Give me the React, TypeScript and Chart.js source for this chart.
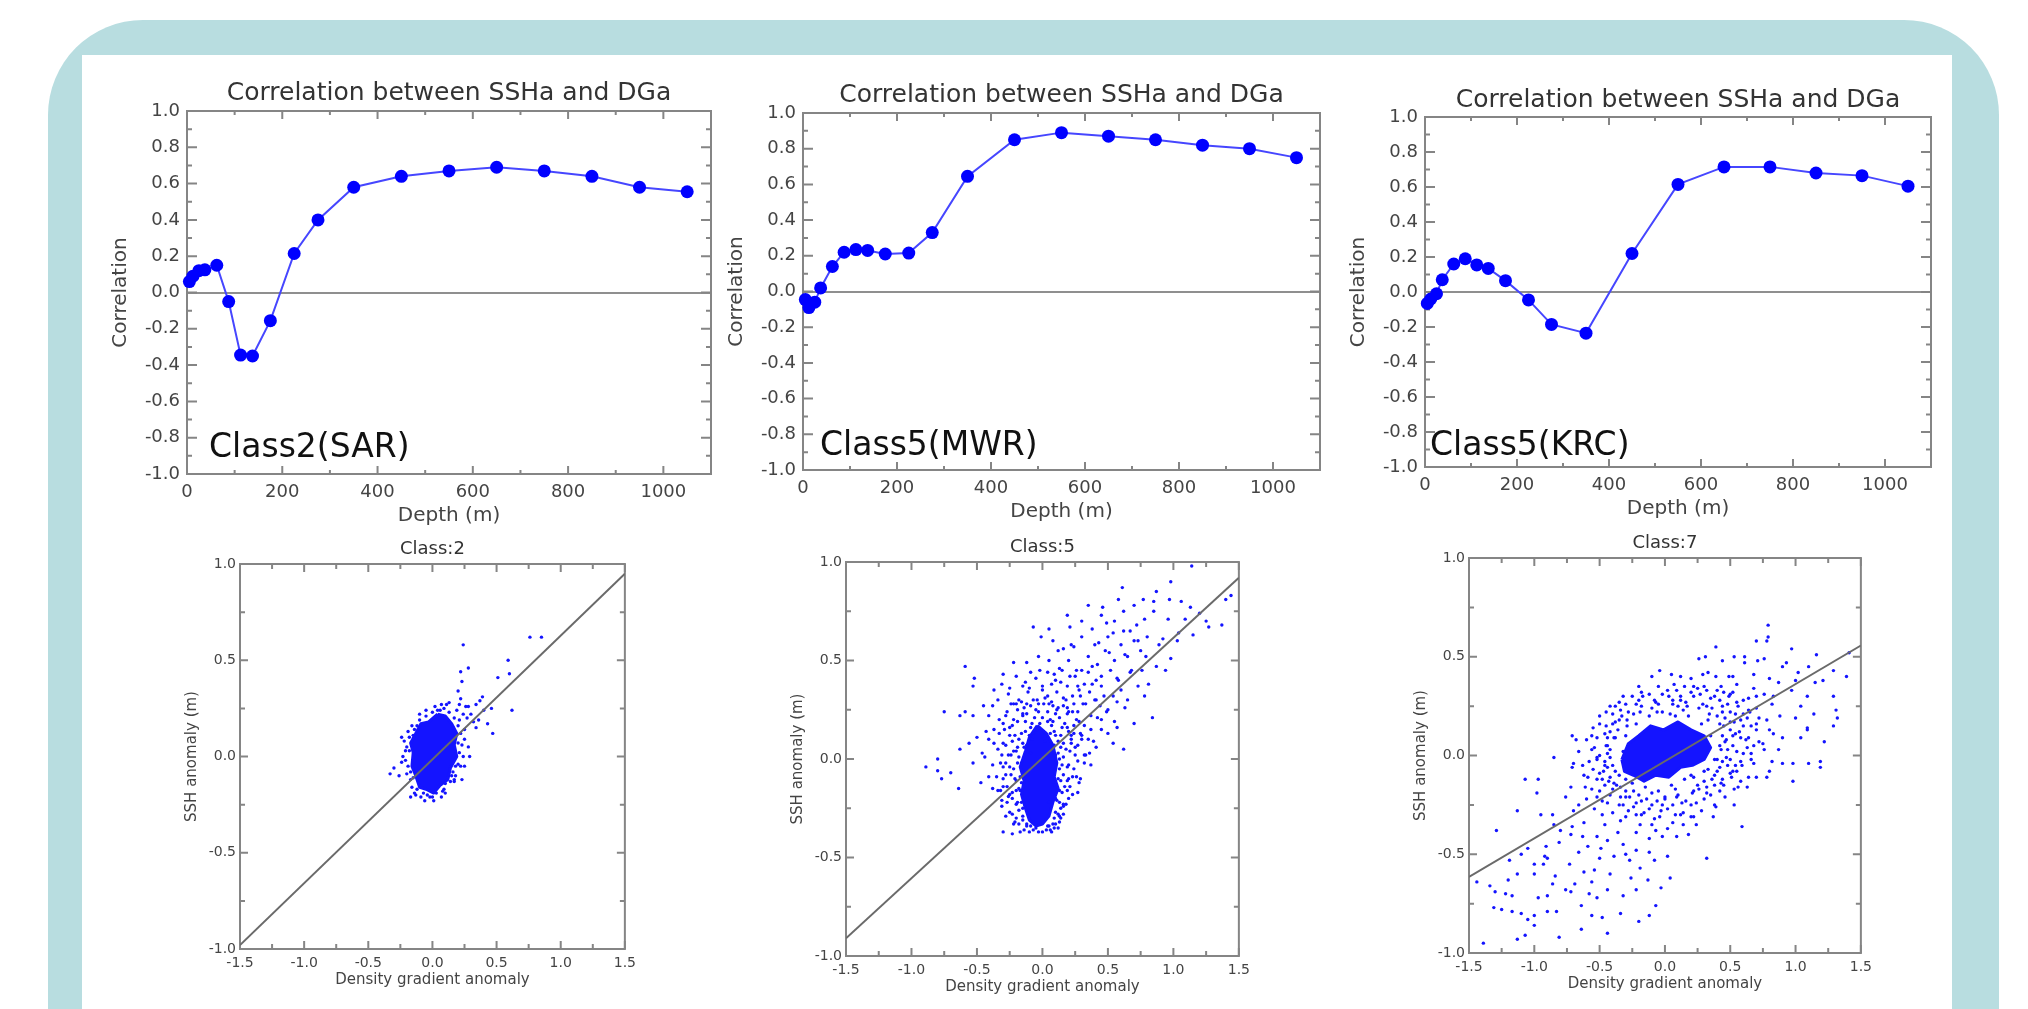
import React, { useEffect, useRef } from "react";
import { Chart, registerables } from "chart.js";

Chart.register(...registerables);

const FONT = "'DejaVu Sans', sans-serif";

// ---------------- Correlation profiles (top row) ----------------
const depthsM = [5, 12.5, 25, 37.5, 62.5, 87.5, 112.5, 137.5, 175, 225, 275, 350, 450, 550, 650, 750, 850, 950, 1050];
const corrClass2SAR = [0.06, 0.09, 0.12, 0.125, 0.15, -0.05, -0.345, -0.35, -0.155, 0.215, 0.4, 0.58, 0.64, 0.67, 0.69, 0.67, 0.64, 0.58, 0.555];
const corrClass5MWR = [-0.045, -0.09, -0.06, 0.02, 0.14, 0.22, 0.235, 0.23, 0.21, 0.215, 0.33, 0.645, 0.85, 0.89, 0.87, 0.85, 0.82, 0.8, 0.75];
const corrClass5KRC = [-0.065, -0.04, -0.01, 0.07, 0.16, 0.19, 0.155, 0.135, 0.065, -0.045, -0.185, -0.235, 0.22, 0.615, 0.715, 0.715, 0.68, 0.665, 0.605];

const depthTicks = [0, 200, 400, 600, 800, 1000];
const depthMinorTicks = [100, 300, 500, 700, 900];
const corrTicks = [-1.0, -0.8, -0.6, -0.4, -0.2, 0.0, 0.2, 0.4, 0.6, 0.8, 1.0];
const corrMinorTicks = [-0.9, -0.7, -0.5, -0.3, -0.1, 0.1, 0.3, 0.5, 0.7, 0.9];

// ---------------- Scatter plots (bottom row) ----------------
const gradTicks = [-1.5, -1.0, -0.5, 0.0, 0.5, 1.0, 1.5];
const gradMinorTicks = [-1.25, -0.75, -0.25, 0.25, 0.75, 1.25];
const sshTicks = [-1.0, -0.5, 0.0, 0.5, 1.0];
const sshMinorTicks = [-0.75, -0.25, 0.25, 0.75];

const fitX = [-1.5, 1.5];
const fitClass2 = [-0.98, 0.95];
const fitClass5 = [-0.91, 0.92];
const fitClass7 = [-0.615, 0.557];

// dense cores (outline of the saturated blobs)
const coreClass2 = [[0.04,0.22],[0.1,0.21],[0.15,0.17],[0.19,0.12],[0.17,0.06],[0.19,0.0],[0.14,-0.06],[0.12,-0.12],[0.06,-0.15],[0.01,-0.19],[-0.05,-0.17],[-0.1,-0.16],[-0.13,-0.1],[-0.16,-0.05],[-0.15,0.02],[-0.17,0.07],[-0.13,0.12],[-0.09,0.17],[-0.03,0.18],[0.04,0.22]];
const coreClass5 = [[-0.04,0.17],[0.03,0.13],[0.08,0.07],[0.11,-0.02],[0.09,-0.09],[0.12,-0.15],[0.08,-0.22],[0.05,-0.29],[0.0,-0.33],[-0.05,-0.34],[-0.1,-0.31],[-0.13,-0.25],[-0.16,-0.18],[-0.14,-0.11],[-0.17,-0.04],[-0.13,0.04],[-0.1,0.11],[-0.04,0.17]];
const coreClass7 = [[-0.33,-0.02],[-0.28,0.06],[-0.2,0.1],[-0.11,0.15],[-0.01,0.13],[0.1,0.17],[0.2,0.13],[0.3,0.1],[0.35,0.04],[0.3,-0.02],[0.21,-0.05],[0.12,-0.06],[0.03,-0.11],[-0.07,-0.1],[-0.16,-0.13],[-0.24,-0.1],[-0.31,-0.08],[-0.33,-0.02]];

const pointsClass2 = [
[-0.2,0.05],[-0.19,-0.05],[-0.18,0.1],[-0.17,-0.12],[-0.21,-0.02],[-0.14,0.14],[-0.1,0.19],[-0.05,0.21],[0.0,0.23],[0.04,0.24],[0.09,0.25],[0.13,0.23],[0.17,0.2],[0.2,0.16],[0.22,0.12],[0.23,0.06],[0.21,0.02],[0.2,-0.04],[0.16,-0.08],[0.14,-0.13],[0.09,-0.17],[0.03,-0.19],[-0.02,-0.21],[-0.07,-0.19],[-0.12,-0.17],[-0.15,-0.11],[0.25,0.14],[0.27,0.2],[0.24,0.22],[0.19,0.24],[0.11,0.27],[-0.22,0.08],[-0.13,-0.2],[0.07,-0.21],[0.18,-0.1],[0.22,-0.05],[0.13,0.28],[0.07,0.27],[0.02,0.26],[-0.05,0.24],[-0.1,0.22],[-0.16,0.16],[-0.19,0.13],[-0.23,0.0],[-0.2,-0.09],[-0.16,-0.16],[-0.09,-0.21],[0.01,-0.23],[0.1,-0.19],[0.17,-0.13],[0.24,0.0],[0.25,0.09],
[-0.18,0.03],[-0.17,-0.08],[-0.15,0.11],[-0.12,0.16],[0.16,0.15],[0.2,0.07],[0.18,-0.05],[0.15,-0.1],[0.08,-0.18],[-0.04,-0.2],[0.21,0.19],[0.06,0.24],
[0.24,0.58],[0.76,0.62],[0.85,0.62],[0.59,0.5],[0.28,0.46],[0.22,0.44],[0.51,0.41],[0.6,0.43],[0.23,0.39],[0.2,0.34],[0.22,0.3],[0.39,0.31],[0.46,0.25],[0.62,0.24],[0.43,0.17],[0.34,0.27],[0.28,0.26],[-0.33,-0.09],[-0.3,-0.06],[-0.24,0.1],[-0.21,0.03],[0.47,0.12],[0.34,0.15],[0.29,0.0],[0.17,-0.12],[0.1,-0.14],[-0.14,-0.19],[-0.06,-0.23],[0.0,-0.21],[0.37,0.29],[0.26,0.26],[0.21,0.27],[0.3,0.22],[0.32,0.18],[0.36,0.19],[0.4,0.24],[-0.26,-0.1],[-0.24,-0.03],[0.25,-0.05],[-0.17,-0.21],[0.28,0.05],[0.23,-0.12]
];

const pointsClass5 = [
[1.14,0.98],[0.98,0.9],[0.61,0.87],[0.87,0.85],[1.44,0.83],[1.4,0.81],[0.58,0.81],[0.77,0.81],[0.85,0.8],[0.97,0.81],[1.06,0.8],[0.35,0.78],[0.46,0.77],[0.7,0.78],[1.13,0.77],[0.19,0.73],[0.45,0.73],[0.62,0.75],[0.85,0.75],[1.2,0.74],[1.25,0.7],[1.37,0.68],[1.27,0.67],[1.09,0.71],[0.96,0.71],[0.78,0.71],[0.49,0.69],[0.3,0.7],[0.21,0.67],[0.38,0.66],[-0.07,0.67],[0.05,0.66],[-0.01,0.62],[0.08,0.6],[0.54,0.64],[0.67,0.65],[1.04,0.64],[1.15,0.63],[0.73,0.6],[0.92,0.61],[0.89,0.58],[1.03,0.6],[0.43,0.59],[0.24,0.57],[0.16,0.56],[-0.03,0.52],[-0.12,0.49],[-0.22,0.49],[-0.59,0.47],[0.51,0.54],[0.63,0.53],[0.79,0.52],[0.98,0.51],[0.87,0.47],[0.94,0.45],[0.76,0.45],[0.67,0.44],[0.57,0.41],[0.38,0.47],[0.26,0.45],[0.13,0.46],[0.04,0.44],[-0.09,0.44],[-0.3,0.43],[-0.52,0.41],[-0.53,0.37],[-0.37,0.35],[-0.25,0.36],[-0.15,0.37],[0.07,0.38],[0.19,0.37],[0.32,0.38],[0.45,0.37],[0.6,0.35],[0.73,0.37],[0.81,0.38],[0.78,0.32],[0.65,0.3],[0.54,0.32],[0.41,0.3],[0.29,0.32],[0.16,0.31],[0.04,0.32],[-0.07,0.3],[-0.22,0.28],[-0.34,0.3],[-0.45,0.27],[-0.75,0.24],[-0.59,0.24],[-0.63,0.22],[-0.53,0.22],[-0.41,0.22],[-0.28,0.22],[-0.15,0.23],[-0.03,0.24],[0.1,0.23],[0.23,0.24],[0.37,0.22],[0.49,0.24],[0.63,0.26],[0.84,0.21],[0.7,0.18],[0.57,0.16],[0.45,0.15],[0.32,0.17],[0.19,0.16],[0.07,0.17],[-0.09,0.16],[-0.25,0.16],[-0.37,0.15],[-0.5,0.11],[-0.41,0.1],[-0.56,0.08],[-0.63,0.05],[-0.8,0.0],[-0.89,-0.04],[-0.8,-0.06],[-0.77,-0.1],[-0.7,-0.07],[-0.64,-0.15],[-0.53,-0.02],[-0.44,0.01],[-0.34,0.05],[-0.28,-0.02],[-0.41,-0.09],[-0.47,-0.12],[-0.34,-0.16],[0.62,0.05],[0.54,0.08],[0.41,0.06],[0.32,-0.02],[0.26,-0.09],[0.3,0.12],[0.22,0.1],[0.36,0.03],[0.27,-0.17],
[-0.3,-0.37],[-0.23,-0.38],[-0.17,-0.37],[0.07,-0.37],[-0.03,-0.37],[0.05,-0.34],[-0.09,-0.34],[-0.22,-0.33],[-0.28,-0.29],[-0.31,-0.24],[-0.26,-0.19],[0.13,-0.29],[0.16,-0.23],[0.23,-0.18],[0.19,-0.11],
[-0.22,0.2],[-0.15,0.22],[-0.08,0.18],[0.0,0.21],[0.08,0.19],[0.15,0.16],[0.22,0.12],[-0.25,0.12],[-0.18,0.1],[-0.1,0.12],[0.12,0.09],[0.18,0.05],[0.25,0.06],[-0.26,0.02],[-0.2,0.04],[-0.16,-0.02],[0.13,0.0],[0.2,-0.03],[0.27,-0.01],[-0.28,-0.08],[-0.21,-0.1],[-0.16,-0.12],[0.12,-0.1],[0.17,-0.14],[0.23,-0.09],[-0.25,-0.18],[-0.19,-0.22],[-0.15,-0.25],[0.1,-0.2],[0.14,-0.25],[0.2,-0.2],[-0.2,-0.3],[-0.12,-0.33],[-0.05,-0.35],[0.04,-0.34],[0.09,-0.3],[0.13,-0.32],[-0.1,-0.37],[0.0,-0.37],[0.06,-0.36],[-0.3,0.08],[-0.32,-0.02],[-0.3,-0.14],[0.3,0.1],[0.32,0.02],[0.28,-0.12],[-0.12,0.28],[-0.04,0.3],[0.05,0.28],[0.12,0.26],[0.2,0.24],[-0.2,0.28],[0.1,0.12],[-0.14,0.06],[-0.17,-0.16],[0.09,-0.13],[0.05,-0.22],[-0.08,0.1],
[0.3,0.45],[0.35,0.52],[0.42,0.48],[0.48,0.55],[0.55,0.5],[0.6,0.58],[0.5,0.62],[0.4,0.58],[0.45,0.42],[0.38,0.38],[0.28,0.35],[0.33,0.28],[0.25,0.42],[0.52,0.45],[0.58,0.4],[0.65,0.52],[0.7,0.6],[0.75,0.55],[0.62,0.65],[0.55,0.7],[0.68,0.45],[0.72,0.68],[0.8,0.62],[0.2,0.5],[0.15,0.45],[0.1,0.4],[0.05,0.5],[-0.02,0.45],[0.22,0.58],[0.3,0.62],[0.12,0.55],[-0.1,0.36],[-0.18,0.3],[0.0,0.35],[0.18,0.3],[0.26,0.2],[0.4,0.3],[0.45,0.2],[0.35,0.1],[0.5,0.25],
[-0.2,0.42],[-0.05,0.41],[0.09,0.43],[0.21,0.42],[0.35,0.44],[-0.31,0.38],[-0.13,0.39],[0.0,0.37],[0.14,0.39],[0.27,0.37],[0.41,0.4],[-0.26,0.33],[-0.11,0.34],[0.02,0.31],[0.11,0.34],[0.23,0.32],[0.36,0.34],[0.47,0.32],[-0.38,0.27],[-0.14,0.26],[-0.03,0.28],[0.08,0.27],[0.19,0.26],[0.31,0.28],[0.44,0.27],[0.57,0.29],[-0.33,0.2],[-0.19,0.19],[-0.06,0.21],[0.04,0.19],[0.13,0.21],[0.28,0.19],[0.42,0.21],[0.55,0.19],[-0.43,0.14],[-0.29,0.15],[-0.16,0.13],[-0.04,0.15],[0.09,0.14],[0.24,0.13],[0.37,0.15],[0.5,0.13],[-0.37,0.08],[-0.23,0.09],[-0.12,0.07],[0.02,0.09],[0.16,0.08],[0.27,0.07],[0.39,0.09],[-0.46,0.03],[-0.31,0.02],[-0.22,0.04],[-0.09,0.03],[0.1,0.02],[0.21,0.04],[0.33,0.02],[-0.38,-0.03],[-0.25,-0.04],[-0.19,-0.02],[0.15,-0.03],[0.24,-0.05],[0.37,-0.03],[-0.35,-0.09],[-0.24,-0.08],[-0.14,-0.1],[0.16,-0.08],[0.29,-0.1],[-0.38,-0.15],[-0.27,-0.14],[-0.2,-0.16],[0.13,-0.16],[0.21,-0.14],[-0.31,-0.21],[-0.23,-0.2],[-0.16,-0.22],[0.11,-0.21],[0.18,-0.23],[-0.25,-0.27],[-0.18,-0.26],[0.1,-0.27],[0.16,-0.28],[-0.21,-0.32],[-0.15,-0.31],[0.08,-0.33],[0.12,-0.35],
[-0.24,0.28],[-0.16,0.29],[-0.09,0.27],[0.01,0.28],[0.07,0.29],[0.16,0.27],[0.24,0.28],[-0.27,0.24],[-0.19,0.25],[-0.12,0.23],[-0.05,0.25],[0.04,0.24],[0.11,0.25],[0.19,0.23],[0.27,0.24],[-0.3,0.18],[-0.23,0.17],[-0.13,0.19],[-0.02,0.18],[0.06,0.2],[0.17,0.18],[0.24,0.17],[-0.33,0.13],[-0.21,0.12],[-0.13,0.14],[-0.07,0.13],[0.06,0.13],[0.14,0.12],[0.2,0.14],[0.29,0.13],[-0.28,0.07],[-0.19,0.06],[-0.15,0.08],[0.09,0.07],[0.14,0.06],[0.22,0.08],[-0.24,0.02],[-0.18,0.01],[0.12,0.03],[0.16,0.01],[0.25,0.02],[-0.3,-0.04],[-0.22,-0.05],[0.13,-0.05],[0.19,-0.04],[-0.3,-0.1],[-0.2,-0.11],[-0.17,-0.09],[0.14,-0.11],[0.2,-0.1],[-0.32,-0.16],[-0.23,-0.17],[-0.18,-0.15],[0.15,-0.17],[0.19,-0.16],[-0.27,-0.22],[-0.2,-0.23],[0.13,-0.22],[0.16,-0.24],[-0.23,-0.28],[-0.15,-0.29],[0.12,-0.28],[0.14,-0.3],[-0.18,-0.33],[-0.12,-0.34],[0.1,-0.33],[-0.14,-0.36],[-0.07,-0.36],[0.03,-0.36],[0.09,-0.35]
];

const pointsClass7 = [
[0.79,0.66],[0.79,0.6],[0.7,0.58],[0.78,0.58],[0.39,0.55],[0.97,0.54],[1.16,0.51],[1.41,0.52],[0.26,0.49],[0.31,0.5],[0.44,0.48],[0.53,0.5],[0.61,0.5],[0.61,0.47],[0.71,0.48],[0.76,0.49],[0.9,0.45],[0.93,0.47],[1.1,0.45],[1.02,0.42],[1.29,0.43],[1.39,0.4],[-0.04,0.43],[0.12,0.4],[0.29,0.41],[0.39,0.4],[0.49,0.4],[0.68,0.41],[0.8,0.39],[0.87,0.37],[1.0,0.38],[1.15,0.37],[1.21,0.38],[1.29,0.3],[0.97,0.33],[0.83,0.3],[0.7,0.3],[1.09,0.3],[1.04,0.25],[1.31,0.23],[1.32,0.19],[1.29,0.15],[1.14,0.21],[1.09,0.14],[1.0,0.19],[1.09,0.13],[1.04,0.09],[1.22,0.07],[1.19,-0.03],[1.19,-0.06],[1.1,-0.04],[0.98,-0.04],[0.98,-0.13],[0.9,-0.04],[0.8,-0.08],[0.78,-0.11],[0.7,-0.11],[0.63,-0.16],[0.53,-0.17],[0.53,-0.25],[0.39,-0.26],[0.59,-0.36],[0.37,-0.31],[0.22,-0.31],[0.14,-0.35],[0.09,-0.41],[0.02,-0.37],[-0.07,-0.38],[-0.19,-0.35],[-0.22,-0.39],[-0.12,-0.42],[0.02,-0.51],[0.32,-0.52],[-0.08,-0.53],[0.04,-0.62],[-0.03,-0.67],[-0.13,-0.63],[-0.07,-0.76],[-0.12,-0.81],[-0.2,-0.84],[-0.22,-0.68],[-0.32,-0.71],[-0.44,-0.68],[-0.44,-0.9],[-0.48,-0.82],[-0.52,-0.72],[-0.56,-0.64],[-0.54,-0.58],[-0.64,-0.76],[-0.64,-0.88],[-0.69,-0.65],[-0.73,-0.55],[-0.76,-0.68],[-0.81,-0.92],[-0.83,-0.79],[-0.86,-0.65],[-0.9,-0.52],[-0.93,-0.55],[-0.97,-0.72],[-1.0,-0.81],[-1.0,-0.86],[-1.07,-0.91],[-1.05,-0.83],[-1.0,-0.55],[-1.05,-0.47],[-1.13,-0.93],[-1.17,-0.79],[-1.17,-0.71],[-1.13,-0.6],[-1.19,-0.53],[-1.2,-0.63],[-1.25,-0.78],[-1.29,-0.38],[-1.3,-0.69],[-1.31,-0.77],[-1.39,-0.95],[-1.44,-0.64],[-1.34,-0.66],[-1.07,-0.12],[-0.97,-0.12],[-0.98,-0.19],[-1.13,-0.28],[-0.95,-0.3],[-0.86,-0.3],[-0.85,-0.35],[-0.8,-0.38],[-0.91,-0.46],[-0.81,-0.44],[-0.71,-0.36],[-0.63,-0.41],[-0.59,-0.46],[-0.49,-0.47],[-0.44,-0.43],[-0.39,-0.51],[-0.32,-0.45],[-0.27,-0.53],[-0.22,-0.48],[-0.19,-0.57],[-0.85,-0.01],[-0.71,0.1],[-0.68,0.08],[-0.71,-0.06],[-0.63,-0.05],[-0.52,-0.01],[-0.59,-0.11],[-0.61,-0.16],[-0.52,-0.21],[-0.66,-0.25],[-0.76,-0.21],[-0.42,0.03],[-0.47,-0.08],[-0.39,-0.14],[-0.34,-0.21],[-0.24,-0.26],[-0.12,-0.27],[-0.02,-0.25],[0.09,-0.21],[0.21,-0.19],[0.32,-0.16],[0.43,-0.14],[0.51,-0.11],[0.59,-0.05],[0.66,0.01],[0.75,0.06],[0.83,0.11],[0.87,0.03],[0.78,0.18],[0.7,0.13],[0.63,0.19],[0.56,0.25],[0.49,0.3],[0.43,0.35],[0.32,0.33],[0.22,0.35],[0.12,0.3],[0.02,0.33],[-0.07,0.27],[-0.19,0.22],[-0.22,0.26],[-0.29,0.18],[-0.36,0.13],[-0.39,0.09],
[-0.45,0.05],[-0.4,-0.05],[-0.42,0.12],[-0.35,0.18],[-0.35,-0.1],[-0.32,0.02],[-0.3,0.1],[-0.3,-0.18],[-0.28,0.22],[-0.25,-0.14],[-0.22,0.16],[-0.2,-0.2],[-0.18,0.25],[-0.15,-0.16],[-0.12,0.2],[-0.1,-0.25],[-0.08,0.28],[-0.05,-0.18],[-0.02,0.22],[0.0,-0.22],[0.03,0.3],[0.05,-0.15],[0.08,0.2],[0.1,-0.2],[0.12,0.28],[0.15,-0.12],[0.18,0.2],[0.2,-0.1],[0.22,0.3],[0.25,-0.15],[0.28,0.16],[0.3,-0.08],[0.32,0.25],[0.35,0.1],[0.38,-0.02],[0.4,0.2],[0.42,0.05],[0.45,0.15],[0.48,-0.05],[0.5,0.22],[0.52,0.1],[0.55,0.02],[0.58,0.18],[0.6,0.28],[0.62,0.08],[0.38,0.3],[0.45,0.32],[0.3,0.35],[0.15,0.35],[-0.05,0.35],[-0.25,0.3],[-0.38,0.25],[-0.48,-0.12],[-0.42,-0.2],[-0.35,-0.25],[-0.22,-0.3],[-0.08,-0.32],[0.08,-0.3],[0.2,-0.25],[0.35,-0.2],[0.45,-0.15],[0.55,-0.08],
[-0.5,0.0],[-0.46,-0.03],[-0.44,0.09],[-0.4,0.16],[-0.37,-0.15],[-0.33,0.2],[-0.27,-0.21],[-0.17,0.3],[-0.14,-0.22],[-0.03,-0.28],[0.06,0.26],[0.13,-0.24],[0.26,0.24],[0.36,-0.12],[0.44,0.25],[0.47,0.08],[0.53,0.17],[0.57,0.12],[0.65,0.22],[0.68,0.05],[0.5,-0.02],[0.4,-0.08],[0.33,0.18],[0.17,0.25],
[-0.1,0.4],[0.05,0.41],[0.2,0.39],[0.33,0.42],[0.52,0.4],[-0.2,0.35],[0.07,0.36],[0.25,0.34],[0.55,0.36],[0.68,0.34],[-0.32,0.3],[-0.12,0.31],[0.35,0.29],[0.5,0.31],[0.64,0.29],[0.76,0.31],[-0.42,0.25],[-0.3,0.26],[-0.1,0.24],[0.1,0.25],[0.36,0.24],[0.48,0.26],[0.7,0.24],[0.82,0.26],[-0.5,0.2],[-0.4,0.21],[0.46,0.19],[0.6,0.21],[0.72,0.19],[0.88,0.2],[-0.55,0.14],[-0.45,0.15],[0.5,0.13],[0.66,0.15],[0.8,0.13],[-0.6,0.08],[-0.52,0.09],[0.46,0.07],[0.58,0.09],[0.72,0.07],[0.9,0.09],[-0.66,0.02],[-0.56,0.03],[-0.44,0.01],[0.48,0.03],[0.6,0.01],[0.76,0.03],[-0.7,-0.04],[-0.58,-0.03],[-0.46,-0.05],[0.44,-0.03],[0.54,-0.05],[0.68,-0.04],[0.82,-0.03],[-0.62,-0.1],[-0.5,-0.09],[-0.42,-0.11],[0.38,-0.1],[0.5,-0.09],[0.64,-0.11],[-0.72,-0.16],[-0.56,-0.17],[-0.46,-0.15],[-0.34,-0.16],[0.26,-0.17],[0.38,-0.15],[0.56,-0.16],[-0.6,-0.22],[-0.48,-0.23],[-0.3,-0.21],[-0.18,-0.23],[0.0,-0.21],[0.16,-0.23],[0.3,-0.22],[0.46,-0.21],[-0.7,-0.28],[-0.54,-0.27],[-0.4,-0.29],[-0.28,-0.28],[-0.16,-0.29],[0.02,-0.27],[0.14,-0.29],[0.28,-0.28],[-0.62,-0.34],[-0.46,-0.35],[-0.34,-0.33],[-0.1,-0.35],[0.06,-0.34],[0.24,-0.35],[-0.72,-0.4],[-0.52,-0.41],[-0.36,-0.39],[-0.02,-0.41],[0.18,-0.4],
[-1.1,-0.5],[-0.92,-0.51],[-0.66,-0.49],[-0.5,-0.52],[-0.3,-0.5],[-0.12,-0.49],[-1.0,-0.6],[-0.84,-0.61],[-0.62,-0.59],[-0.42,-0.6],[-0.26,-0.62],[-1.22,-0.7],[-0.9,-0.71],[-0.72,-0.69],[-0.58,-0.7],[-1.1,-0.8],[-0.9,-0.79],[-0.56,-0.81],[-0.34,-0.8],
[-0.18,0.32],[-0.02,0.31],[0.09,0.33],[0.2,0.32],[0.27,0.31],[0.4,0.33],[0.52,0.32],[-0.35,0.27],[-0.2,0.28],[-0.05,0.26],[0.06,0.28],[0.16,0.27],[0.29,0.26],[0.42,0.28],[0.55,0.27],[-0.45,0.22],[-0.34,0.23],[-0.24,0.21],[-0.06,0.22],[0.04,0.21],[0.14,0.23],[0.34,0.21],[0.44,0.22],[0.54,0.21],[0.64,0.23],[-0.5,0.16],[-0.38,0.17],[-0.29,0.15],[0.42,0.16],[0.5,0.17],[0.6,0.15],[0.7,0.16],[-0.56,0.1],[-0.46,0.11],[-0.38,0.09],[0.44,0.1],[0.54,0.11],[0.64,0.09],[-0.54,0.04],[-0.44,0.05],[0.43,0.03],[0.52,0.05],[0.63,0.04],[-0.52,-0.02],[-0.42,-0.01],[0.4,-0.02],[0.47,-0.01],[0.58,-0.03],[0.66,-0.02],[-0.55,-0.07],[-0.44,-0.06],[-0.38,-0.08],[0.33,-0.07],[0.42,-0.06],[0.52,-0.08],[-0.52,-0.12],[-0.43,-0.13],[-0.3,-0.12],[0.22,-0.11],[0.3,-0.13],[0.44,-0.12],[0.58,-0.13],[-0.5,-0.18],[-0.4,-0.17],[-0.24,-0.18],[-0.1,-0.19],[0.08,-0.17],[0.22,-0.18],[0.32,-0.19],[0.42,-0.18],[-0.44,-0.24],[-0.32,-0.25],[-0.22,-0.24],[-0.06,-0.23],[0.06,-0.25],[0.24,-0.24],[0.38,-0.25],[-0.48,-0.3],[-0.3,-0.31],[-0.18,-0.3],[-0.04,-0.31],[0.12,-0.3],[0.2,-0.31]
];

// ---------------- helpers ----------------
const toXY = (pairs: number[][]) => pairs.map(([x, y]) => ({ x, y }));

const idlFrame = {
  id: "idlFrame",
  beforeDatasetsDraw(chart: any, _args: any, o: any) {
    const { ctx, chartArea: a, scales } = chart;
    const sx = scales.x;
    const sy = scales.y;
    ctx.save();
    ctx.strokeStyle = o.color;
    ctx.lineWidth = o.lineWidth;
    ctx.strokeRect(a.left, a.top, a.right - a.left, a.bottom - a.top);
    ctx.beginPath();
    const xt = (vals: number[], len: number) =>
      vals.forEach((v) => {
        const p = sx.getPixelForValue(v);
        ctx.moveTo(p, a.bottom);
        ctx.lineTo(p, a.bottom - len);
        ctx.moveTo(p, a.top);
        ctx.lineTo(p, a.top + len);
      });
    const yt = (vals: number[], len: number) =>
      vals.forEach((v) => {
        const p = sy.getPixelForValue(v);
        ctx.moveTo(a.left, p);
        ctx.lineTo(a.left + len, p);
        ctx.moveTo(a.right, p);
        ctx.lineTo(a.right - len, p);
      });
    xt(o.xMajor, o.xMajorLen);
    xt(o.xMinor, o.xMinorLen);
    yt(o.yMajor, o.yMajorLen);
    yt(o.yMinor, o.yMinorLen);
    ctx.stroke();
    ctx.restore();
  },
  afterDatasetsDraw(chart: any, _args: any, o: any) {
    if (!o.label) return;
    const { ctx, chartArea: a } = chart;
    ctx.save();
    ctx.font = `${o.label.size}px ${FONT}`;
    ctx.fillStyle = "#111";
    ctx.textBaseline = "alphabetic";
    ctx.textAlign = "left";
    ctx.fillText(o.label.text, a.left + o.label.dx, a.bottom - o.label.dy);
    ctx.restore();
  },
};

type Box = { pl: number; pt: number; pr: number; pb: number };

function corrSpec(values: number[], box: Box, titleCenter: number, label: { text: string; dx: number; dy: number }) {
  const canvasTop = 60;
  const yW = 110;
  const xH = 70;
  const padR = 15;
  const left = box.pl - yW;
  const width = yW + (box.pr - box.pl) + padR;
  const height = box.pb + xH - canvasTop;
  const tPadTop = titleCenter - canvasTop - 15;
  const tPadBottom = box.pt - canvasTop - tPadTop - 30;
  const make = () => ({
    type: "line",
    data: {
      datasets: [
        {
          data: depthsM.map((d, i) => ({ x: d, y: values[i] })),
          borderColor: "#4646ff",
          borderWidth: 2,
          pointRadius: 6.5,
          pointHoverRadius: 6.5,
          pointBackgroundColor: "#0000ff",
          pointBorderWidth: 0,
          tension: 0,
          clip: false,
        },
      ],
    },
    options: {
      responsive: false,
      animation: false,
      devicePixelRatio: 1,
      events: [],
      layout: { padding: { left: 0, right: padR, top: 0, bottom: 0 } },
      plugins: {
        legend: { display: false },
        tooltip: { enabled: false },
        title: {
          display: true,
          text: "Correlation between SSHa and DGa",
          fullSize: false,
          color: "#333",
          font: { family: FONT, size: 25, weight: "normal" },
          padding: { top: tPadTop, bottom: tPadBottom },
        },
        idlFrame: {
          color: "#858585",
          lineWidth: 2,
          xMajor: depthTicks,
          xMinor: depthMinorTicks,
          yMajor: corrTicks,
          yMinor: corrMinorTicks,
          xMajorLen: 8,
          xMinorLen: 4,
          yMajorLen: 10,
          yMinorLen: 5,
          label: { text: label.text, dx: label.dx, dy: label.dy, size: 33 },
        },
      },
      scales: {
        x: {
          type: "linear",
          min: 0,
          max: 1100,
          afterBuildTicks: (s: any) => {
            s.ticks = depthTicks.map((v) => ({ value: v }));
          },
          afterFit: (s: any) => {
            s.height = xH;
          },
          grid: { display: false, drawTicks: false },
          border: { display: false },
          ticks: {
            color: "#444",
            font: { family: FONT, size: 18 },
            padding: 8,
            maxRotation: 0,
            autoSkip: false,
            callback: (v: any) => String(v),
          },
          title: {
            display: true,
            text: "Depth (m)",
            color: "#444",
            font: { family: FONT, size: 20 },
            padding: { top: 0, bottom: 16 },
          },
        },
        y: {
          type: "linear",
          min: -1,
          max: 1,
          afterBuildTicks: (s: any) => {
            s.ticks = corrTicks.map((v) => ({ value: v }));
          },
          afterFit: (s: any) => {
            s.width = yW;
          },
          grid: {
            drawTicks: false,
            lineWidth: 2,
            color: (c: any) => (c.tick && c.tick.value === 0 ? "#8f8f8f" : "rgba(0,0,0,0)"),
          },
          border: { display: false },
          ticks: {
            color: "#444",
            font: { family: FONT, size: 18 },
            padding: 7,
            autoSkip: false,
            callback: (v: any) => Number(v).toFixed(1),
          },
          title: {
            display: true,
            text: "Correlation",
            color: "#444",
            font: { family: FONT, size: 20 },
            padding: { top: 32, bottom: 0 },
          },
        },
      },
    },
    plugins: [idlFrame],
  });
  return { left, top: canvasTop, width, height, make };
}

function scatterSpec(title: string, core: number[][], pts: number[][], fit: number[], box: Box, titleCenter: number) {
  const canvasTop = 520;
  const yW = 80;
  const xH = 50;
  const padR = 15;
  const left = box.pl - yW;
  const width = yW + (box.pr - box.pl) + padR;
  const height = box.pb + xH - canvasTop;
  const tPadTop = titleCenter - canvasTop - 10.8;
  const tPadBottom = box.pt - canvasTop - tPadTop - 21.6;
  const make = () => ({
    type: "scatter",
    data: {
      datasets: [
        {
          type: "line",
          data: fitX.map((x, i) => ({ x, y: fit[i] })),
          borderColor: "#6a6a6a",
          borderWidth: 2,
          pointRadius: 0,
          fill: false,
          order: 0,
        },
        {
          type: "scatter",
          data: toXY(pts),
          pointRadius: 1.7,
          pointHoverRadius: 1.7,
          pointBackgroundColor: "#1414ff",
          pointBorderWidth: 0,
          borderWidth: 0,
          order: 1,
        },
        {
          type: "line",
          data: toXY(core),
          showLine: true,
          tension: 0,
          borderColor: "#1414ff",
          borderWidth: 3,
          borderJoinStyle: "round",
          backgroundColor: "#1414ff",
          fill: "shape",
          pointRadius: 0,
          order: 2,
        },
      ],
    },
    options: {
      responsive: false,
      animation: false,
      devicePixelRatio: 1,
      events: [],
      layout: { padding: { left: 0, right: padR, top: 0, bottom: 0 } },
      plugins: {
        legend: { display: false },
        tooltip: { enabled: false },
        title: {
          display: true,
          text: title,
          fullSize: false,
          color: "#333",
          font: { family: FONT, size: 18, weight: "normal" },
          padding: { top: tPadTop, bottom: tPadBottom },
        },
        idlFrame: {
          color: "#858585",
          lineWidth: 2,
          xMajor: gradTicks,
          xMinor: gradMinorTicks,
          yMajor: sshTicks,
          yMinor: sshMinorTicks,
          xMajorLen: 8,
          xMinorLen: 5,
          yMajorLen: 8,
          yMinorLen: 5,
        },
      },
      scales: {
        x: {
          type: "linear",
          min: -1.5,
          max: 1.5,
          afterBuildTicks: (s: any) => {
            s.ticks = gradTicks.map((v) => ({ value: v }));
          },
          afterFit: (s: any) => {
            s.height = xH;
          },
          grid: { display: false, drawTicks: false },
          border: { display: false },
          ticks: {
            color: "#444",
            font: { family: FONT, size: 14 },
            padding: 6,
            maxRotation: 0,
            autoSkip: false,
            callback: (v: any) => Number(v).toFixed(1),
          },
          title: {
            display: true,
            text: "Density gradient anomaly",
            color: "#444",
            font: { family: FONT, size: 15 },
            padding: { top: 0, bottom: 9.5 },
          },
        },
        y: {
          type: "linear",
          min: -1,
          max: 1,
          afterBuildTicks: (s: any) => {
            s.ticks = sshTicks.map((v) => ({ value: v }));
          },
          afterFit: (s: any) => {
            s.width = yW;
          },
          grid: { display: false, drawTicks: false },
          border: { display: false },
          ticks: {
            color: "#444",
            font: { family: FONT, size: 14 },
            padding: 4,
            autoSkip: false,
            callback: (v: any) => Number(v).toFixed(1),
          },
          title: {
            display: true,
            text: "SSH anomaly (m)",
            color: "#444",
            font: { family: FONT, size: 15 },
            padding: { top: 23, bottom: 0 },
          },
        },
      },
    },
    plugins: [idlFrame],
  });
  return { left, top: canvasTop, width, height, make };
}

const specs = [
  corrSpec(corrClass2SAR, { pl: 187, pt: 111, pr: 711, pb: 474 }, 93.5, { text: "Class2(SAR)", dx: 22, dy: 17 }),
  corrSpec(corrClass5MWR, { pl: 803, pt: 113, pr: 1320, pb: 470 }, 95, { text: "Class5(MWR)", dx: 17, dy: 15 }),
  corrSpec(corrClass5KRC, { pl: 1425, pt: 117, pr: 1931, pb: 467 }, 100, { text: "Class5(KRC)", dx: 5, dy: 12 }),
  scatterSpec("Class:2", coreClass2, pointsClass2, fitClass2, { pl: 240, pt: 564, pr: 627, pb: 949 }, 549),
  scatterSpec("Class:5", coreClass5, pointsClass5, fitClass5, { pl: 846, pt: 562, pr: 1241, pb: 956 }, 547),
  scatterSpec("Class:7", coreClass7, pointsClass7, fitClass7, { pl: 1469, pt: 558, pr: 1863, pb: 953 }, 543),
];

function ChartCanvas({ spec }: { spec: any }) {
  const ref = useRef<HTMLCanvasElement>(null);
  useEffect(() => {
    const chart = new Chart(ref.current as HTMLCanvasElement, spec.make());
    return () => chart.destroy();
  }, []);
  return (
    <canvas
      ref={ref}
      width={spec.width}
      height={spec.height}
      style={{ position: "absolute", left: spec.left, top: spec.top, width: spec.width, height: spec.height }}
    />
  );
}

export default function App() {
  return (
    <div style={{ position: "absolute", left: 0, top: 0, width: 2028, height: 1009, overflow: "hidden", background: "#ffffff" }}>
      <div
        style={{
          position: "absolute",
          left: 48,
          top: 20,
          width: 1951,
          height: 1100,
          background: "#b8dde0",
          borderTopLeftRadius: 95,
          borderTopRightRadius: 95,
        }}
      />
      <div style={{ position: "absolute", left: 82, top: 55, width: 1870, height: 1000, background: "#ffffff" }} />
      {specs.map((s, i) => (
        <ChartCanvas key={i} spec={s} />
      ))}
    </div>
  );
}
